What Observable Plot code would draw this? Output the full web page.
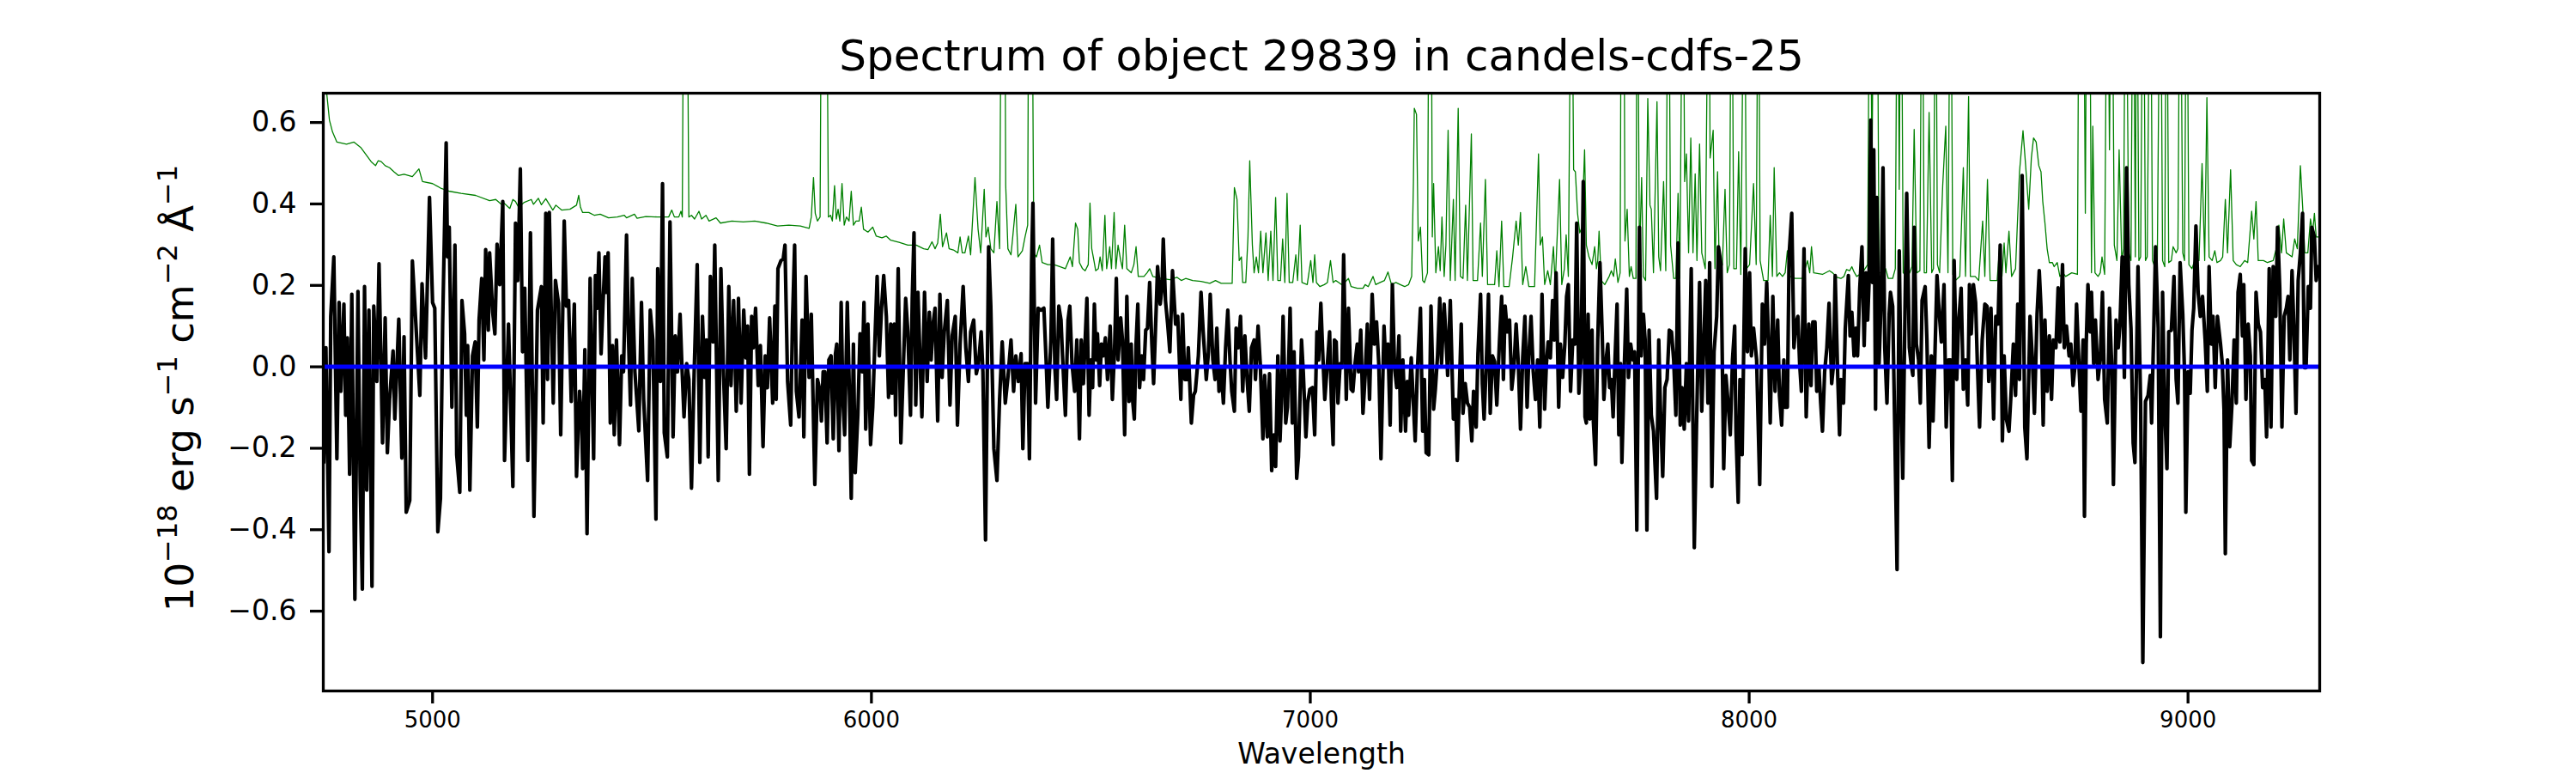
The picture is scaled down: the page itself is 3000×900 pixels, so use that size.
<!DOCTYPE html>
<html>
<head>
<meta charset="utf-8">
<script src="https://cdn.jsdelivr.net/npm/d3@7"></script>
<script src="https://cdn.jsdelivr.net/npm/@observablehq/plot@0.6"></script>
<style>
  html, body { margin: 0; padding: 0; background: #fff; }
  #chart { width: 3000px; height: 900px; }
</style>
</head>
<body>
<div id="chart"></div>
<script>
// ---------- DATA ----------
const titleText = "Spectrum of object 29839 in candels-cdfs-25";
const xLabelText = "Wavelength";
const xTicks = [5000, 6000, 7000, 8000, 9000];
const yTicks = [-0.6, -0.4, -0.2, 0, 0.2, 0.4, 0.6];

// observed flux (black), wavelength in Angstrom
const fluxWave = [
4752,4757,4764,4768,4775,4782,4787,4791,4798,4802,4806,4811,4816,4823,4830,4835,4840,4845,4850,4855,4862,4866,4873,4878,4886,4892,4897,4902,4910,4914,4923,4930,4935,4940,4948,4954,4964,4971,4976,4984,4993,5000,5005,5012,5018,5023,5031,5034,5038,5044,5051,5055,5062,5067,5073,5077,5080,5085,5091,5097,5102,5106,5112,5117,5121,5127,5130,5137,5142,5147,5153,5160,5164,5173,5183,5189,5194,5200,5205,5210,5217,5223,5231,5239,5248,5252,5258,5262,5266,5271,5275,5280,5287,5292,5300,5305,5310,5316,
5323,5328,5335,5340,5342,5347,5352,5359,5367,5371,5375,5379,5384,5388,5393,5396,5400,5405,5410,5414,5419,5426,5431,5435,5442,5446,5451,5455,5461,5465,5470,5476,5481,5490,5496,5502,5509,5513,5519,5524,5528,5535,5541,5548,5553,5558,5564,5568,5573,5579,5584,5590,5596,5603,5609,5615,5620,5624,5628,5633,5639,5643,5651,5657,5663,5669,5675,5680,5686,5692,5697,5703,5709,5714,5718,5722,5727,5731,5736,5742,5747,5753,5758,5763,5768,5775,5780,5783,5787,5794,5799,5803,5809,5816,5820,5825,5829,5835,5842,5846,5851,5858,5863,5871,5877,5883,5886,5890,
5894,5899,5903,5908,5913,5918,5921,5926,5931,5935,5939,5945,5950,5954,5959,5963,5969,5974,5979,5983,5987,5992,5998,6003,6008,6013,6018,6023,6028,6034,6039,6044,6047,6052,6055,6061,6067,6073,6078,6083,6089,6093,6097,6101,6106,6111,6115,6121,6127,6132,6136,6141,6145,6151,6156,6161,6166,6173,6179,6184,6191,6196,6202,6209,6215,6221,6226,6233,6239,6244,6250,6254,6260,6267,6272,6279,6286,6292,6298,6305,6311,6318,6324,6329,6335,6341,6345,6350,6356,6360,6365,6368,6374,6380,6386,6393,6398,6402,6409,6413,6418,6422,6427,6432,6435,6442,6448,6452,6457,6463,6468,
6471,6474,6478,6483,6487,6491,6496,6500,6504,6508,6512,6515,6520,6524,6528,6533,6538,6544,6549,6554,6558,6562,6568,6572,6577,6582,6587,6592,6595,6599,6603,6607,6611,6616,6620,6625,6629,6634,6639,6643,6648,6652,6658,6662,6665,6670,6675,6680,6686,6693,6698,6705,6709,6714,6719,6722,6729,6734,6738,6745,6751,6756,6763,6768,6772,6778,6783,6787,6792,6797,6802,6807,6812,6817,6821,6827,6831,6836,6841,6846,6851,6856,6861,6866,6872,6875,6881,6886,6892,6896,6902,6907,6912,6917,6921,6926,6931,6934,6938,6944,6948,6954,6959,6963,6969,6973,6980,6984,6990,6994,6999,7005,7010,7015,7019,7024,7029,7033,7039,7044,
7048,7052,7055,7059,7063,7068,7072,7076,7082,7087,7093,7097,7102,7107,7110,7115,7120,7125,7130,7135,7141,7146,7151,7156,7161,7168,7172,7177,7182,7187,7192,7197,7202,7206,7211,7217,7221,7224,7230,7234,7239,7244,7251,7256,7260,7264,7270,7275,7281,7285,7290,7295,7299,7305,7309,7313,7319,7326,7331,7335,7340,7344,7348,7353,7358,7363,7368,7372,7378,7382,7388,7392,7396,7401,7406,7410,7415,7420,7425,7431,7436,7440,7444,7449,7454,7459,7464,7469,7474,7479,7484,7489,7494,7498,7503,7508,7513,7518,7523,7528,7534,7538,7542,7547,7552,7556,7560,7566,7570,7575,7580,7584,7588,7593,7598,7603,7607,7612,7617,7622,
7626,7629,7633,7637,7642,7645,7650,7655,7660,7665,7669,7675,7678,7682,7686,7690,7694,7699,7703,7707,7710,7716,7721,7725,7730,7735,7739,7744,7750,7754,7759,7763,7767,7772,7777,7782,7789,7794,7798,7803,7808,7813,7818,7823,7828,7833,7838,7843,7847,7852,7857,7862,7868,7875,7880,7887,7892,7896,7901,7906,7910,7915,7920,7926,7930,7936,7942,7947,7952,7957,7962,7967,7970,7975,7979,7984,7991,7996,8001,8005,8010,8017,8024,8030,8035,8040,8044,8048,8054,8059,8065,8069,8074,8079,8082,8087,8091,8097,8102,8106,8111,8115,8119,8125,8130,8136,8141,8145,8150,8154,8159,8163,8167,8172,8177,8182,8188,8192,8196,8202,
8206,8209,8215,8219,8226,8230,8234,8239,8243,8247,8252,8257,8262,8266,8270,8273,8277,8281,8284,8288,8291,8296,8301,8305,8309,8314,8319,8322,8327,8332,8337,8342,8346,8350,8355,8359,8365,8369,8373,8376,8381,8386,8390,8394,8401,8405,8410,8415,8419,8423,8428,8433,8438,8444,8449,8454,8459,8463,8467,8473,8477,8483,8488,8493,8498,8502,8506,8511,8516,8520,8525,8531,8537,8542,8546,8551,8557,8562,8567,8572,8577,8581,8586,8592,8597,8602,8607,8612,8616,8622,8628,8633,8640,8645,8650,8656,8661,8665,8670,8674,8679,8684,8689,8693,8699,8704,8708,8714,8718,8723,8729,8733,8738,8742,8746,8751,8756,8761,8764,8768,8772,8777,
8780,8785,8789,8795,8800,8805,8810,8816,8821,8826,8830,8836,8841,8845,8850,8855,8860,8865,8870,8875,8879,8886,8892,8897,8903,8909,8914,8917,8922,8926,8932,8937,8942,8947,8952,8956,8962,8968,8973,8977,8982,8988,8992,8995,9000,9005,9009,9013,9018,9023,9028,9033,9039,9044,9048,9053,9057,9062,9067,9074,9078,9082,9085,9090,9095,9100,9105,9110,9114,9119,9124,9127,9132,9137,9142,9145,9150,9155,9160,9165,9170,9175,9179,9185,9189,9194,9200,9204,9209,9214,9219,9224,9228,9232,9237,9241,9246,9251,9256,9261,9265,9269,9274,9279,9282,9288,9292,9296,9299
];
// flux in 1e-18 erg/s/cm2/A
const flux = [
-0.235,0.047,-0.454,0.124,0.270,-0.226,0.158,-0.060,0.154,-0.119,0.071,-0.264,0.178,-0.571,0.185,-0.284,-0.546,0.197,-0.303,0.139,-0.539,0.149,-0.036,0.253,-0.187,0.120,-0.211,-0.080,0.039,-0.128,0.117,-0.224,0.074,-0.357,-0.328,0.260,0.066,-0.070,0.204,0.022,0.416,0.158,0.144,-0.405,-0.323,0.105,0.550,0.270,0.343,-0.099,0.299,-0.216,-0.308,0.163,0.081,-0.119,0.052,-0.303,0.027,0.061,-0.148,0.115,0.217,0.017,0.288,0.090,0.280,0.134,0.081,0.301,0.202,0.406,-0.230,0.105,-0.294,0.353,0.212,0.486,0.037,0.193,-0.230,0.329,-0.367,0.139,0.197,-0.138,0.377,-0.031,0.379,0.105,-0.089,0.212,0.156,-0.167,0.358,0.149,0.163,-0.085,
0.154,-0.269,-0.060,-0.148,-0.250,0.042,-0.410,0.217,-0.226,0.224,0.144,0.280,0.032,0.144,0.270,0.183,0.280,-0.138,0.052,-0.167,0.066,-0.191,0.027,-0.012,0.324,0.086,-0.094,0.217,-0.012,-0.075,-0.157,0.158,-0.080,-0.279,0.139,0.066,-0.374,0.241,-0.036,0.450,-0.162,-0.221,0.356,-0.172,0.076,-0.012,0.129,0.008,-0.123,0.008,-0.031,-0.298,-0.017,0.251,-0.235,0.124,-0.026,0.066,-0.221,0.222,0.061,0.299,-0.279,0.241,-0.021,-0.201,0.197,-0.046,0.163,-0.109,0.168,-0.089,0.139,0.022,0.100,-0.264,0.124,0.047,0.144,-0.046,0.052,-0.196,0.027,-0.051,0.120,-0.089,0.149,-0.080,0.241,0.261,0.265,0.299,-0.036,-0.143,0.105,0.299,-0.060,-0.123,0.115,-0.172,0.222,-0.026,0.129,-0.289,-0.031,-0.060,-0.133,-0.012,
-0.012,-0.187,0.017,0.027,-0.177,0.032,0.056,-0.206,0.158,-0.080,-0.167,0.158,-0.070,-0.323,0.056,-0.260,-0.119,0.081,-0.012,0.158,-0.153,0.105,-0.191,-0.099,0.066,0.222,0.027,0.144,0.224,0.124,-0.075,0.105,-0.065,0.105,-0.119,0.241,-0.187,0.008,0.168,0.086,-0.119,0.168,0.329,-0.094,0.183,0.008,-0.123,0.183,-0.036,0.134,0.017,0.110,0.144,-0.133,0.178,-0.026,0.086,0.163,-0.094,0.076,0.124,-0.143,0.056,0.197,0.047,-0.036,0.086,0.115,-0.017,0.008,0.086,-0.012,-0.425,0.295,0.149,-0.201,-0.279,-0.080,0.061,-0.089,-0.026,0.066,-0.060,0.027,-0.036,0.032,-0.201,0.008,0.008,-0.226,0.256,0.402,-0.089,0.144,0.139,0.144,0.017,-0.099,0.066,0.314,-0.002,-0.080,0.149,0.115,0.037,-0.119,0.115,0.149,0.008,-0.060,0.066,
-0.051,-0.177,0.066,-0.041,0.066,0.168,-0.119,0.017,-0.051,0.154,0.017,0.081,-0.046,0.056,0.027,0.071,-0.031,0.100,-0.080,0.042,0.217,0.017,0.120,0.066,-0.167,0.173,-0.085,0.056,-0.080,-0.128,0.056,0.154,-0.051,0.027,-0.031,0.090,0.095,0.207,0.056,-0.041,0.115,0.246,0.154,0.193,0.314,0.163,0.105,0.037,0.236,0.105,0.124,-0.080,0.129,-0.031,-0.031,0.047,-0.138,-0.070,-0.060,0.027,0.183,0.086,-0.031,0.037,0.178,0.017,-0.031,0.095,-0.060,-0.002,-0.089,0.047,0.139,0.017,-0.060,-0.109,0.095,0.047,0.124,-0.060,0.076,-0.031,-0.109,0.047,0.066,-0.031,0.100,0.008,-0.177,-0.021,-0.172,-0.017,-0.255,-0.167,-0.245,0.027,-0.182,-0.089,0.124,-0.138,-0.099,0.144,-0.138,0.037,-0.274,-0.221,0.066,-0.012,-0.172,-0.089,-0.055,-0.051,-0.167,0.086,0.017,0.156,0.017,-0.080,0.008,0.086,
-0.080,-0.191,0.066,0.061,-0.089,0.008,-0.002,0.275,-0.080,0.144,-0.055,-0.060,0.008,0.056,-0.012,0.090,-0.114,-0.021,0.105,-0.080,0.178,0.056,0.110,0.008,-0.226,0.100,0.008,0.056,-0.143,0.202,-0.002,-0.051,0.076,-0.158,0.017,-0.158,-0.036,-0.119,0.022,-0.070,-0.182,-0.007,0.144,-0.158,-0.031,-0.211,-0.216,0.149,-0.104,-0.055,0.027,0.168,0.008,0.154,0.076,-0.021,0.163,-0.128,-0.080,-0.230,-0.041,0.105,-0.114,-0.041,-0.089,-0.099,-0.182,-0.060,-0.148,0.032,0.178,-0.041,-0.128,0.008,0.178,-0.114,0.027,0.013,-0.094,0.061,0.173,-0.031,0.149,0.086,0.115,-0.055,-0.002,0.105,0.008,-0.153,0.022,0.124,-0.099,0.027,0.124,-0.012,-0.080,0.017,-0.148,0.178,-0.104,0.008,0.061,0.022,0.163,0.066,0.231,-0.099,0.056,-0.026,0.056,0.173,0.202,-0.060,0.066,0.056,0.353,-0.065,0.027,0.455,
-0.123,-0.138,0.129,-0.128,0.090,-0.133,-0.240,0.066,0.256,0.086,-0.080,0.027,0.056,-0.051,-0.031,-0.123,0.008,0.154,-0.167,0.008,-0.235,0.017,0.191,-0.026,0.056,0.017,0.037,-0.401,0.343,0.027,0.129,0.066,-0.401,0.090,-0.119,-0.158,-0.323,0.066,-0.109,-0.269,-0.051,-0.031,0.090,0.086,0.017,-0.119,0.304,-0.143,-0.051,-0.153,0.008,-0.133,0.241,-0.444,-0.148,0.207,-0.109,0.037,0.212,-0.089,0.256,-0.294,0.037,0.124,0.295,0.251,-0.250,-0.021,-0.089,-0.167,0.017,0.100,-0.158,-0.333,-0.031,-0.216,0.290,0.037,0.231,0.027,0.095,0.017,-0.289,0.154,0.056,0.207,0.066,-0.138,0.173,-0.060,0.115,-0.070,-0.143,0.017,-0.099,-0.099,0.275,0.377,0.047,0.105,0.124,0.008,-0.060,0.290,-0.123,0.105,-0.046,0.110,0.110,-0.060,-0.002,-0.089,-0.158,-0.012,0.047,0.156,-0.041,0.003,0.224,-0.031,
-0.167,-0.031,-0.089,0.095,0.224,0.076,0.134,0.027,0.095,0.027,0.193,0.295,0.052,0.231,0.115,0.202,0.606,0.207,0.533,-0.104,0.416,0.008,0.173,0.489,0.047,-0.089,0.129,0.183,0.149,-0.167,-0.498,0.285,-0.051,-0.274,0.134,0.426,0.047,0.008,-0.021,0.343,0.056,0.017,-0.089,0.163,0.197,0.066,-0.198,0.027,-0.133,0.017,0.224,0.134,0.061,0.202,-0.148,0.017,0.017,-0.279,0.261,-0.031,0.105,0.193,-0.055,0.017,-0.094,0.202,0.081,0.202,0.158,0.008,-0.148,0.066,0.154,0.149,-0.036,0.144,-0.128,0.124,0.105,0.299,-0.182,0.027,-0.128,-0.158,-0.060,0.056,-0.070,0.154,-0.031,0.470,-0.148,-0.226,0.124,0.027,-0.114,0.129,0.236,0.144,-0.143,0.115,-0.060,0.076,-0.080,0.066,0.047,0.194,0.061,0.251,0.047,0.100,0.027,0.056,-0.046,-0.002,0.154,0.017,-0.109,0.066,-0.367,0.056,0.202,0.086,
0.183,0.008,0.115,-0.031,0.017,0.183,-0.080,-0.138,0.144,0.008,-0.289,0.115,0.047,0.105,0.270,-0.026,0.489,0.202,0.095,-0.187,-0.235,0.246,-0.089,-0.726,-0.085,-0.070,-0.021,-0.138,0.095,0.295,0.095,-0.663,0.183,-0.109,-0.250,0.086,0.090,0.222,-0.031,-0.089,0.256,0.129,-0.012,-0.357,-0.012,-0.065,0.090,0.144,0.346,0.183,0.124,0.173,0.066,-0.060,0.246,0.056,0.124,-0.051,0.124,0.056,0.008,-0.104,-0.459,0.017,-0.196,-0.094,0.066,-0.089,0.183,0.227,0.076,0.202,-0.080,0.105,0.027,-0.230,-0.240,0.183,0.105,0.086,-0.051,-0.031,-0.172,0.241,-0.148,0.246,0.124,0.343,0.193,-0.148,0.124,0.144,0.173,0.017,0.236,0.105,-0.114,0.212,0.280,0.377,-0.002,-0.002,0.197,0.144,0.343,0.319,0.212,0.246,0.241
];

// noise spectrum (green)
const noiseWave = [
4751,4759,4765,4772,4782,4804,4821,4837,4860,4870,4876,4883,4892,4902,4912,4922,4935,4954,4969,4977,5000,5020,5039,5065,5098,5130,5144,5157,5163,5176,5183,5189,5196,5209,5225,5230,5241,5248,5258,5274,5281,5294,5313,
5328,5333,5337,5342,5356,5369,5382,5401,5421,5437,5442,5460,5466,5486,5512,5538,5545,5551,5561,5566,5569,5573,5579,5584,5590,5597,5607,5613,5623,5630,5646,5656,5682,5708,5734,5760,5786,5812,5838,5858,5863,5868,5872,5877,5883,5887,
5897,5902,5907,5911,5916,5920,5924,5928,5933,5938,5943,5949,5954,5959,5965,5972,5977,5982,5992,6003,6011,6024,6034,6044,6063,6083,6102,6119,6129,6138,6145,6151,6157,6162,6171,6177,6187,6197,6202,6207,6213,6221,6226,6236,6243,6249,6257,6261,6266,6272,6279,6286,6292,6297,6303,6306,6311,6318,6322,6329,6334,6344,6350,6356,6359,6365,6370,6376,6383,6389,6402,6416,6429,6442,6453,6458,6465,6470,
6474,6481,6487,6494,6498,6502,6507,6511,6517,6521,6526,6532,6536,6543,6547,6553,6557,6562,6568,6572,6577,6582,6592,6598,6603,6608,6621,6628,6634,6641,6660,6680,6696,6706,6716,6732,6751,6771,6784,6797,6822,6827,6833,6838,6843,6846,6853,6858,6862,6868,6872,6877,6882,6887,6892,6899,6904,6910,6915,6921,6926,6932,6937,6942,6947,6952,6960,6967,6971,6977,6981,6993,7001,7006,7010,7014,7022,7032,7039,7046,
7052,7058,7065,7071,7078,7087,7093,7107,7120,7125,7132,7143,7149,7159,7169,7177,7185,7195,7205,7215,7224,7231,7235,7237,7242,7246,7251,7256,7260,7267,7271,7275,7278,7281,7286,7292,7296,7300,7305,7309,7314,7319,7326,7330,7337,7342,7348,7354,7358,7367,7371,7381,7388,7392,7399,7404,7414,7420,7425,7430,7436,7441,7453,7461,7469,7474,7479,7484,7491,7498,7511,7520,7524,7529,7534,7541,7547,7554,7558,7568,7573,7579,7583,7588,7595,7600,7604,7609,7614,7619,7625,
7629,7635,7642,7648,7652,7655,7658,7663,7671,7681,7686,7691,7695,7701,7706,7709,7714,7717,7722,7727,7731,7736,7742,7745,7750,7755,7759,7764,7769,7774,7777,7782,7790,7794,7798,7805,7810,7816,7821,7828,7833,7838,7842,7849,7853,7857,7862,7867,7872,7877,7881,7887,7892,7900,7908,7911,7918,7922,7928,7932,7939,7945,7950,7955,7960,7965,7971,7976,7981,7989,7994,8001,8010,8016,8021,8025,8033,8043,8048,8053,8057,8063,8069,8076,8082,8087,8093,8105,8121,8133,8138,8142,8147,8167,8183,8190,8200,
8209,8216,8222,8229,8234,8239,8245,8258,8270,8275,8280,8284,8291,8296,8304,8311,8317,8327,8333,8338,8342,8346,8351,8359,8366,8371,8376,8382,8389,8394,8399,8404,8410,8416,8420,8425,8429,8434,8441,8448,8453,8459,8464,8470,8480,8488,8493,8500,8504,8515,8523,8532,8537,8543,8549,8565,8571,8576,8581,8585,8592,8598,8607,8616,8624,8630,8637,8643,8648,8654,8660,8665,8669,8674,8679,8684,8691,8695,8702,8708,8715,8721,8735,8748,8752,8757,8761,8766,8770,8775,8780,
8783,8788,8795,8800,8804,8810,8816,8821,8826,8832,8838,8843,8849,8853,8858,8865,8870,8875,8880,8883,8888,8892,8898,8903,8907,8914,8919,8924,8930,8937,8942,8947,8951,8956,8962,8966,8973,8977,8982,8988,8992,8997,9002,9009,9015,9025,9032,9038,9043,9048,9055,9061,9066,9074,9079,9085,9090,9097,9103,9110,9119,9129,9136,9145,9150,9155,9160,9172,9181,9194,9201,9207,9213,9218,9224,9237,9243,9249,9256,9262,9266,9273,9279,9284,9288,9292,9299
];
const noise = [
0.75,0.670,0.606,0.577,0.552,0.547,0.552,0.538,0.504,0.494,0.506,0.504,0.494,0.489,0.479,0.470,0.473,0.467,0.486,0.455,0.450,0.438,0.431,0.426,0.421,0.408,0.411,0.399,0.402,0.389,0.411,0.406,0.392,0.404,0.411,0.399,0.414,0.398,0.413,0.385,0.397,0.385,0.387,
0.397,0.421,0.392,0.379,0.379,0.372,0.375,0.366,0.368,0.372,0.366,0.375,0.365,0.369,0.368,0.368,0.385,0.368,0.368,0.382,0.368,1.2,1.2,0.368,0.372,0.363,0.382,0.363,0.372,0.358,0.366,0.353,0.358,0.356,0.358,0.353,0.346,0.348,0.346,0.340,0.368,0.465,0.377,0.358,0.368,1.2,
1.2,0.368,0.372,0.358,0.445,0.363,0.387,0.358,0.450,0.348,0.368,0.358,0.431,0.348,0.358,0.358,0.392,0.338,0.331,0.343,0.321,0.317,0.321,0.311,0.306,0.299,0.299,0.290,0.288,0.307,0.290,0.304,0.375,0.295,0.329,0.290,0.287,0.280,0.319,0.280,0.280,0.321,0.275,0.465,0.338,0.280,0.436,0.319,0.343,0.290,0.280,0.406,0.290,1.2,1.2,0.445,0.290,0.275,0.319,0.399,0.270,0.285,0.319,0.348,1.2,1.2,0.280,0.270,0.299,0.256,0.251,0.251,0.246,0.241,0.270,0.246,0.353,0.338,
0.256,0.241,0.236,0.251,0.402,0.290,0.261,0.236,0.241,0.270,0.236,0.372,0.241,0.295,0.241,0.379,0.241,0.299,0.261,0.241,0.348,0.241,0.231,0.251,0.295,0.222,0.222,0.231,0.241,0.222,0.217,0.214,0.220,0.212,0.217,0.212,0.210,0.205,0.212,0.205,0.205,0.440,0.411,0.261,0.270,0.207,0.207,0.319,0.506,0.299,0.231,0.270,0.231,0.333,0.231,0.329,0.212,0.333,0.212,0.416,0.212,0.212,0.314,0.207,0.426,0.207,0.207,0.275,0.212,0.348,0.207,0.202,0.261,0.207,0.275,0.207,0.197,0.202,0.207,0.261,
0.207,0.212,0.207,0.202,0.207,0.217,0.197,0.193,0.193,0.202,0.197,0.222,0.202,0.207,0.212,0.233,0.202,0.207,0.202,0.197,0.202,0.222,0.455,0.635,0.620,0.309,0.343,0.212,0.207,0.231,1.2,1.2,0.319,0.450,0.231,0.295,0.236,0.368,0.222,0.299,0.581,0.212,0.411,0.212,0.635,0.222,0.217,0.397,0.212,0.572,0.212,0.212,0.353,0.222,0.460,0.202,0.202,0.202,0.285,0.197,0.358,0.197,0.197,0.270,0.358,0.299,0.379,0.202,0.246,0.197,0.197,0.523,0.299,0.319,0.202,0.236,0.202,0.295,0.202,0.460,0.202,0.241,0.324,0.222,1.2,0.484,0.479,0.377,0.329,0.343,0.533,
0.299,0.270,0.251,0.295,0.241,0.261,0.333,0.212,0.202,0.222,0.236,0.222,0.265,0.207,0.231,1.2,1.2,0.309,0.387,0.222,0.246,0.217,0.217,1.2,0.261,0.465,0.222,0.212,0.659,0.397,0.387,0.231,0.651,0.270,0.236,0.455,0.236,1.2,0.299,0.217,0.217,0.426,0.217,1.2,0.455,0.523,0.280,0.562,0.280,0.474,0.261,0.547,0.280,0.241,1.2,0.513,0.581,0.241,0.479,0.231,0.251,0.436,0.231,0.251,1.2,0.241,0.241,0.528,0.227,1.2,0.241,0.251,0.450,0.251,1.2,0.261,0.212,0.212,0.372,0.222,0.489,0.222,0.231,0.222,0.231,0.285,0.222,0.217,0.217,0.261,0.231,0.295,0.231,0.227,0.236,0.231,0.220,
0.217,0.222,0.239,0.236,0.246,0.233,0.222,0.231,0.251,1.2,0.455,1.2,1.2,0.231,0.231,0.241,0.217,0.217,0.241,1.2,0.436,1.2,0.231,0.222,0.231,0.246,0.583,0.231,0.236,1.2,0.231,0.231,0.625,0.231,0.241,1.2,0.251,0.231,0.445,0.591,0.231,1.2,0.227,0.212,0.222,0.489,0.222,0.664,0.222,0.222,0.212,0.358,0.222,0.460,0.212,0.212,0.299,0.222,0.304,0.231,0.333,0.222,0.241,0.479,0.580,0.494,0.387,0.513,0.562,0.552,0.494,0.479,0.406,0.353,0.290,0.256,0.256,0.246,0.256,0.222,0.231,0.222,0.231,0.227,1.2,1.2,1.2,0.377,1.2,1.2,0.231,
0.591,0.231,0.222,0.231,0.270,0.227,1.2,0.533,1.2,0.299,0.261,0.533,0.261,0.290,1.2,0.280,0.261,1.2,0.270,1.2,0.261,0.270,1.2,0.261,0.270,1.2,0.261,0.246,0.261,1.2,0.261,0.246,1.2,0.256,0.261,0.295,0.280,0.290,1.2,0.280,0.261,1.2,0.251,0.241,0.261,0.261,0.499,0.261,0.661,0.270,0.261,0.285,0.256,0.261,0.270,0.411,0.280,0.484,0.261,0.251,0.246,0.261,0.256,0.382,0.314,0.406,0.261,0.261,0.256,0.261,0.290,0.348,0.280,0.363,0.280,0.270,0.314,0.290,0.494,0.377,0.280,0.280,0.363,0.329,0.377,0.319,0.319
];

// fitted continuum (blue), flat at zero
const contWave = [4751, 9300];
const cont = [0, 0];

// ---------- CHART ----------
const font = "DejaVu Sans";
const chart = Plot.plot({
  width: 3000,
  height: 900,
  marginLeft: 376,
  marginRight: 299,
  marginTop: 108,
  marginBottom: 96,
  style: {fontFamily: font, background: "#fff", color: "#000", overflow: "visible"},
  x: {domain: [4751, 9300]},
  y: {domain: [-0.796, 0.672]},
  marks: [
    Plot.lineY(noise, {x: noiseWave, stroke: "#008000", strokeWidth: 1.3, clip: true}),
    Plot.lineY(flux, {x: fluxWave, stroke: "#000000", strokeWidth: 4.2, clip: true}),
    Plot.lineY(cont, {x: contWave, stroke: "#0000ff", strokeWidth: 5, clip: true}),
    Plot.axisX({ticks: xTicks, tickFormat: d => String(d), tickSize: 15, tickPadding: 9,
                fontSize: 26, strokeWidth: 3.3, label: null}),
    Plot.axisY({ticks: yTicks, tickFormat: d3.format(".1f"), tickSize: 15, tickPadding: 16,
                fontSize: 33, strokeWidth: 3.3, label: null}),
    Plot.frame({stroke: "#000", strokeWidth: 3.3}),
    Plot.text([titleText], {frameAnchor: "top", lineAnchor: "middle", dy: -43, fontSize: 50, fill: "#000"}),
    Plot.text([xLabelText], {frameAnchor: "bottom", lineAnchor: "middle", dy: 74, fontSize: 33, fill: "#000"})
  ]
});

// y-axis label with superscripts
const svg = d3.select(chart);
const ylab = svg.append("text")
  .attr("transform", "translate(225,452) rotate(-90)")
  .attr("text-anchor", "middle")
  .attr("font-family", font)
  .attr("font-size", 45)
  .attr("fill", "#000");
const parts = [["10", false], ["\u221218", true], [" erg s", false], ["\u22121", true],
               [" cm", false], ["\u22122", true], [" \u00c5", false], ["\u22121", true]];
let raised = false;
for (const [txt, sup] of parts) {
  const ts = ylab.append("tspan").text(txt);
  if (sup && !raised) { ts.attr("dy", -19).attr("font-size", 32); raised = true; }
  else if (sup) { ts.attr("font-size", 32); }
  else if (!sup && raised) { ts.attr("dy", 19); raised = false; }
}

document.getElementById("chart").appendChild(chart);
</script>
</body>
</html>
